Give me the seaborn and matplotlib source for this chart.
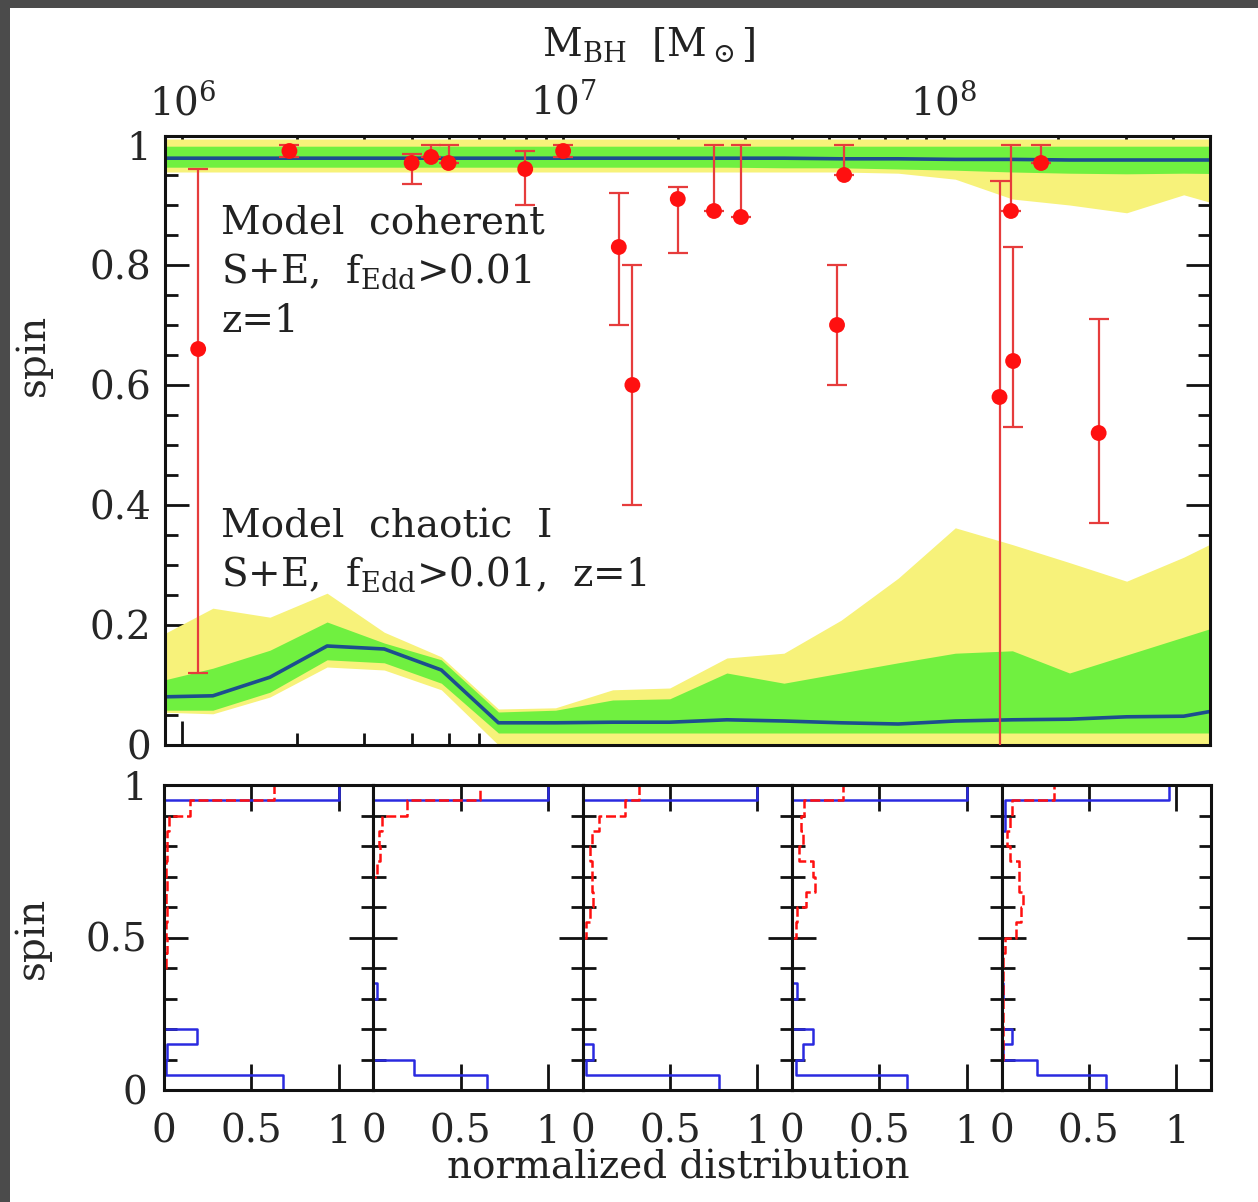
import numpy as np
import seaborn as sns
import matplotlib
matplotlib.use("Agg")
import matplotlib.pyplot as plt
from matplotlib.patches import Rectangle
from matplotlib.ticker import LogLocator, NullFormatter, MultipleLocator

# ---- model grid: log10(M_BH) ----
log_mass = [5.93, 6.08, 6.23, 6.38, 6.53, 6.68, 6.83, 6.98, 7.13, 7.28,
            7.43, 7.58, 7.73, 7.88, 8.03, 8.18, 8.33, 8.48, 8.63, 8.78]

# coherent model (mean, 1-sigma green band, 2-sigma yellow band)
coh_mean = [0.978, 0.978, 0.978, 0.978, 0.978, 0.978, 0.978, 0.978, 0.978, 0.978,
            0.978, 0.978, 0.977, 0.977, 0.976, 0.976, 0.975, 0.975, 0.975, 0.975]
coh_green_lo = [0.963, 0.963, 0.963, 0.963, 0.963, 0.963, 0.963, 0.963, 0.963, 0.963,
                0.963, 0.962, 0.962, 0.960, 0.958, 0.955, 0.953, 0.952, 0.953, 0.952]
coh_green_hi = [0.998] * 20
coh_yel_lo = [0.955, 0.955, 0.955, 0.955, 0.955, 0.955, 0.955, 0.955, 0.955, 0.955,
              0.955, 0.955, 0.955, 0.953, 0.943, 0.91, 0.90, 0.887, 0.917, 0.89]
coh_yel_hi = [1.01] * 20

# chaotic I model
cha_mean = [0.080, 0.082, 0.113, 0.165, 0.160, 0.125, 0.037, 0.037, 0.038, 0.038,
            0.042, 0.040, 0.037, 0.035, 0.040, 0.042, 0.043, 0.047, 0.048, 0.065]
cha_green_lo = [0.058, 0.058, 0.088, 0.142, 0.137, 0.103, 0.020, 0.020, 0.020, 0.020,
                0.020, 0.020, 0.020, 0.020, 0.020, 0.020, 0.020, 0.020, 0.020, 0.020]
cha_green_hi = [0.105, 0.128, 0.158, 0.205, 0.170, 0.142, 0.055, 0.058, 0.075, 0.077,
                0.120, 0.103, 0.120, 0.137, 0.153, 0.157, 0.120, 0.150, 0.180, 0.210]
cha_yel_lo = [0.055, 0.052, 0.080, 0.130, 0.125, 0.092, 0.0, 0.0, 0.0, 0.0,
              0.0, 0.0, 0.0, 0.0, 0.0, 0.0, 0.0, 0.0, 0.0, 0.0]
cha_yel_hi = [0.178, 0.228, 0.213, 0.253, 0.188, 0.147, 0.060, 0.062, 0.092, 0.095,
              0.145, 0.153, 0.208, 0.278, 0.362, 0.334, 0.304, 0.273, 0.313, 0.360]

# ---- measured spins ----
obs_mass = [1.1e6, 1.91e6, 4.0e6, 4.5e6, 5.0e6, 7.95e6, 1.0e7, 1.4e7, 1.52e7, 2.0e7,
            2.49e7, 2.93e7, 5.24e7, 5.47e7, 1.4e8, 1.5e8, 1.52e8, 1.8e8, 2.55e8]
obs_spin = [0.66, 0.99, 0.97, 0.98, 0.97, 0.96, 0.99, 0.83, 0.60, 0.91,
            0.89, 0.88, 0.70, 0.95, 0.58, 0.89, 0.64, 0.97, 0.52]
obs_err_hi = [0.30, 0.01, 0.015, 0.02, 0.03, 0.03, 0.01, 0.09, 0.20, 0.02,
              0.11, 0.12, 0.10, 0.05, 0.36, 0.11, 0.19, 0.03, 0.19]
obs_err_lo = [0.54, 0.01, 0.035, 0.0, 0.0, 0.06, 0.01, 0.13, 0.20, 0.09,
              0.0, 0.0, 0.10, 0.0, 0.74, 0.0, 0.11, 0.0, 0.15]

# ---- spin distributions, 5 mass bins, 20 spin bins of 0.05 ----
spin_edges = [0.0, 0.05, 0.1, 0.15, 0.2, 0.25, 0.3, 0.35, 0.4, 0.45, 0.5,
              0.55, 0.6, 0.65, 0.7, 0.75, 0.8, 0.85, 0.9, 0.95, 1.0]
hist_chaotic = [
    [0.68, 0.01, 0.02, 0.19, 0, 0, 0, 0, 0, 0, 0, 0, 0, 0, 0, 0, 0, 0, 0, 0],
    [0.65, 0.23, 0, 0, 0, 0, 0.02, 0, 0, 0, 0, 0, 0, 0, 0, 0, 0, 0, 0, 0],
    [0.78, 0.02, 0.06, 0, 0, 0, 0, 0, 0, 0, 0, 0, 0, 0, 0, 0, 0, 0, 0, 0],
    [0.66, 0.02, 0.06, 0.12, 0, 0, 0.03, 0, 0, 0, 0, 0, 0, 0, 0, 0, 0, 0, 0, 0],
    [0.60, 0.20, 0.01, 0.06, 0, 0, 0.01, 0, 0, 0, 0, 0, 0, 0, 0, 0, 0, 0, 0, 0],
]
hist_coherent = [
    [0, 0, 0, 0, 0, 0, 0, 0, 0, 0, 0, 0, 0, 0, 0, 0, 0, 0, 0, 1.0],
    [0, 0, 0, 0, 0, 0, 0, 0, 0, 0, 0, 0, 0, 0, 0, 0, 0, 0, 0, 1.0],
    [0, 0, 0, 0, 0, 0, 0, 0, 0, 0, 0, 0, 0, 0, 0, 0, 0, 0, 0, 1.0],
    [0, 0, 0, 0, 0, 0, 0, 0, 0, 0, 0, 0, 0, 0, 0, 0, 0, 0, 0, 1.0],
    [0, 0, 0, 0, 0, 0, 0, 0, 0, 0, 0, 0, 0, 0, 0, 0, 0, 0.02, 0.02, 0.96],
]
hist_obs = [
    [0, 0, 0, 0, 0, 0, 0, 0, 0.01, 0.02, 0.01, 0.02, 0.01, 0.02, 0.01, 0.02, 0.02, 0.03, 0.15, 0.63],
    [0, 0, 0, 0, 0, 0, 0, 0, 0, 0, 0, 0, 0, 0, 0.02, 0.04, 0.03, 0.05, 0.19, 0.61],
    [0, 0, 0, 0, 0, 0, 0, 0, 0, 0, 0.02, 0.04, 0.06, 0.05, 0.05, 0.04, 0.05, 0.09, 0.24, 0.32],
    [0, 0, 0, 0, 0, 0, 0, 0, 0, 0, 0.02, 0.03, 0.08, 0.13, 0.12, 0.04, 0.06, 0.05, 0.07, 0.29],
    [0, 0, 0.01, 0.01, 0.01, 0.01, 0.01, 0.01, 0.01, 0.02, 0.08, 0.11, 0.12, 0.10, 0.10, 0.05, 0.03, 0.05, 0.06, 0.30],
]

YELLOW = "#f7f27a"
GREEN = "#70f040"
BLUE = "#1c4e8e"
HBLUE = "#2a2ae0"
RED = "#ff1010"
EBAR = "#e63c3c"
FS = 28

sns.set_theme(style="ticks")
plt.rcParams["font.family"] = ["DejaVu Serif"]
plt.rcParams["mathtext.fontset"] = "dejavuserif"

W, H = 1258, 1202
fig = plt.figure(figsize=(W / 100, H / 100), dpi=100)
fig.patch.set_facecolor("#4b4b4b")
fig.add_artist(Rectangle((10 / W, 0), 1, 1 - 8 / H, transform=fig.transFigure,
                         facecolor="white", edgecolor="none", zorder=-10))


def fig_box(x0, y0, x1, y1):
    return [x0 / W, 1 - y1 / H, (x1 - x0) / W, (y1 - y0) / H]


def style_frame(a):
    for sp in a.spines.values():
        sp.set_linewidth(2.2)
        sp.set_color("#111111")


# ---------------- top panel ----------------
ax = fig.add_axes(fig_box(165, 136, 1210, 745))
ax.set_xscale("log")
mass = 10 ** np.array(log_mass)
for lo, hi, c in [(coh_yel_lo, coh_yel_hi, YELLOW), (coh_green_lo, coh_green_hi, GREEN),
                  (cha_yel_lo, cha_yel_hi, YELLOW), (cha_green_lo, cha_green_hi, GREEN)]:
    ax.fill_between(mass, lo, hi, color=c, lw=0, zorder=1)
sns.lineplot(x=mass, y=coh_mean, ax=ax, color=BLUE, lw=2.6, zorder=2)
sns.lineplot(x=mass, y=cha_mean, ax=ax, color=BLUE, lw=2.6, zorder=2)

ax.errorbar(obs_mass, obs_spin, yerr=[obs_err_lo, obs_err_hi], fmt="none",
            ecolor=EBAR, elinewidth=1.6, capsize=7, capthick=1.6, zorder=4)
sns.scatterplot(x=obs_mass, y=obs_spin, ax=ax, color=RED, s=130,
                edgecolor="none", zorder=5)

ax.set_xlim(9e5, 5e8)
ax.set_ylim(0, 1.015)
ax.set_xticks([1e6, 1e7, 1e8], labels=[r"$10^6$", r"$10^7$", r"$10^8$"])
ax.xaxis.set_minor_locator(LogLocator(base=10, subs=(2, 3, 4, 5, 6, 7, 8, 9)))
ax.xaxis.set_minor_formatter(NullFormatter())
ax.set_yticks([0, 0.2, 0.4, 0.6, 0.8, 1.0], labels=["0", "0.2", "0.4", "0.6", "0.8", "1"])
ax.yaxis.set_minor_locator(MultipleLocator(0.05))
ax.tick_params(which="both", direction="in", top=True, right=True, bottom=True, left=True,
               labeltop=True, labelbottom=False, width=2, color="#111111")
ax.tick_params(which="major", length=17, labelsize=FS, pad=10)
ax.tick_params(which="minor", length=9)
ax.set_xlabel("")
ax.set_ylabel("spin", fontsize=FS)
ax.yaxis.set_label_coords(-0.108, 0.64)
style_frame(ax)

txt_x = 1.265e6
ax.text(txt_x, 0.853, "Model  coherent", fontsize=FS, va="baseline", color="#222222")
ax.text(txt_x, 0.770, r"S+E,  f$_{\rm Edd}$>0.01", fontsize=FS, va="baseline", color="#222222")
ax.text(txt_x, 0.688, "z=1", fontsize=FS, va="baseline", color="#222222")
ax.text(txt_x, 0.345, "Model  chaotic  I", fontsize=FS, va="baseline", color="#222222")
ax.text(txt_x, 0.265, r"S+E,  f$_{\rm Edd}$>0.01,  z=1", fontsize=FS, va="baseline", color="#222222")

fig.text(648 / W, 1 - 45 / H, r"M$_{\rm BH}$  [M$_\odot$]", fontsize=FS,
         ha="center", va="center", color="#222222")

# ---------------- bottom panels ----------------
centers = [(a + b) / 2 for a, b in zip(spin_edges[:-1], spin_edges[1:])]
px = np.linspace(164, 1211, 6)
for k in range(5):
    bax = fig.add_axes(fig_box(px[k], 785, px[k + 1], 1090))
    sns.histplot(y=centers, weights=hist_chaotic[k], bins=spin_edges, element="step",
                 fill=False, color=HBLUE, linewidth=1.8, ax=bax)
    sns.histplot(y=centers, weights=hist_coherent[k], bins=spin_edges, element="step",
                 fill=False, color=HBLUE, linewidth=1.8, ax=bax)
    sns.histplot(y=centers, weights=hist_obs[k], bins=spin_edges, element="step",
                 fill=False, color=RED, linewidth=1.8, linestyle=(0, (4, 1.5)), ax=bax)
    bax.set_xlim(0, 1.2)
    bax.set_ylim(0, 1.0)
    bax.set_xticks([0, 0.5, 1.0], labels=["0", "0.5", "1"])
    bax.set_yticks([0, 0.5, 1.0], labels=["0", "0.5", "1"])
    bax.yaxis.set_minor_locator(MultipleLocator(0.1))
    bax.tick_params(which="both", direction="in", top=True, right=True, bottom=True, left=True,
                    width=2, color="#111111", labelleft=(k == 0))
    bax.tick_params(which="major", labelsize=FS, pad=12)
    bax.tick_params(axis="x", which="major", pad=17)
    bax.tick_params(axis="x", which="major", length=19)
    bax.tick_params(axis="y", which="major", length=17)
    bax.tick_params(which="minor", length=9)
    bax.set_xlabel("")
    bax.set_ylabel("")
    if k == 0:
        bax.set_ylabel("spin", fontsize=FS)
        bax.yaxis.set_label_coords(-0.54, 0.5)
    style_frame(bax)

fig.text(678 / W, 1 - 1168 / H, "normalized distribution", fontsize=FS,
         ha="center", va="center", color="#222222")

fig.savefig("out.png", dpi=100, facecolor=fig.get_facecolor())
